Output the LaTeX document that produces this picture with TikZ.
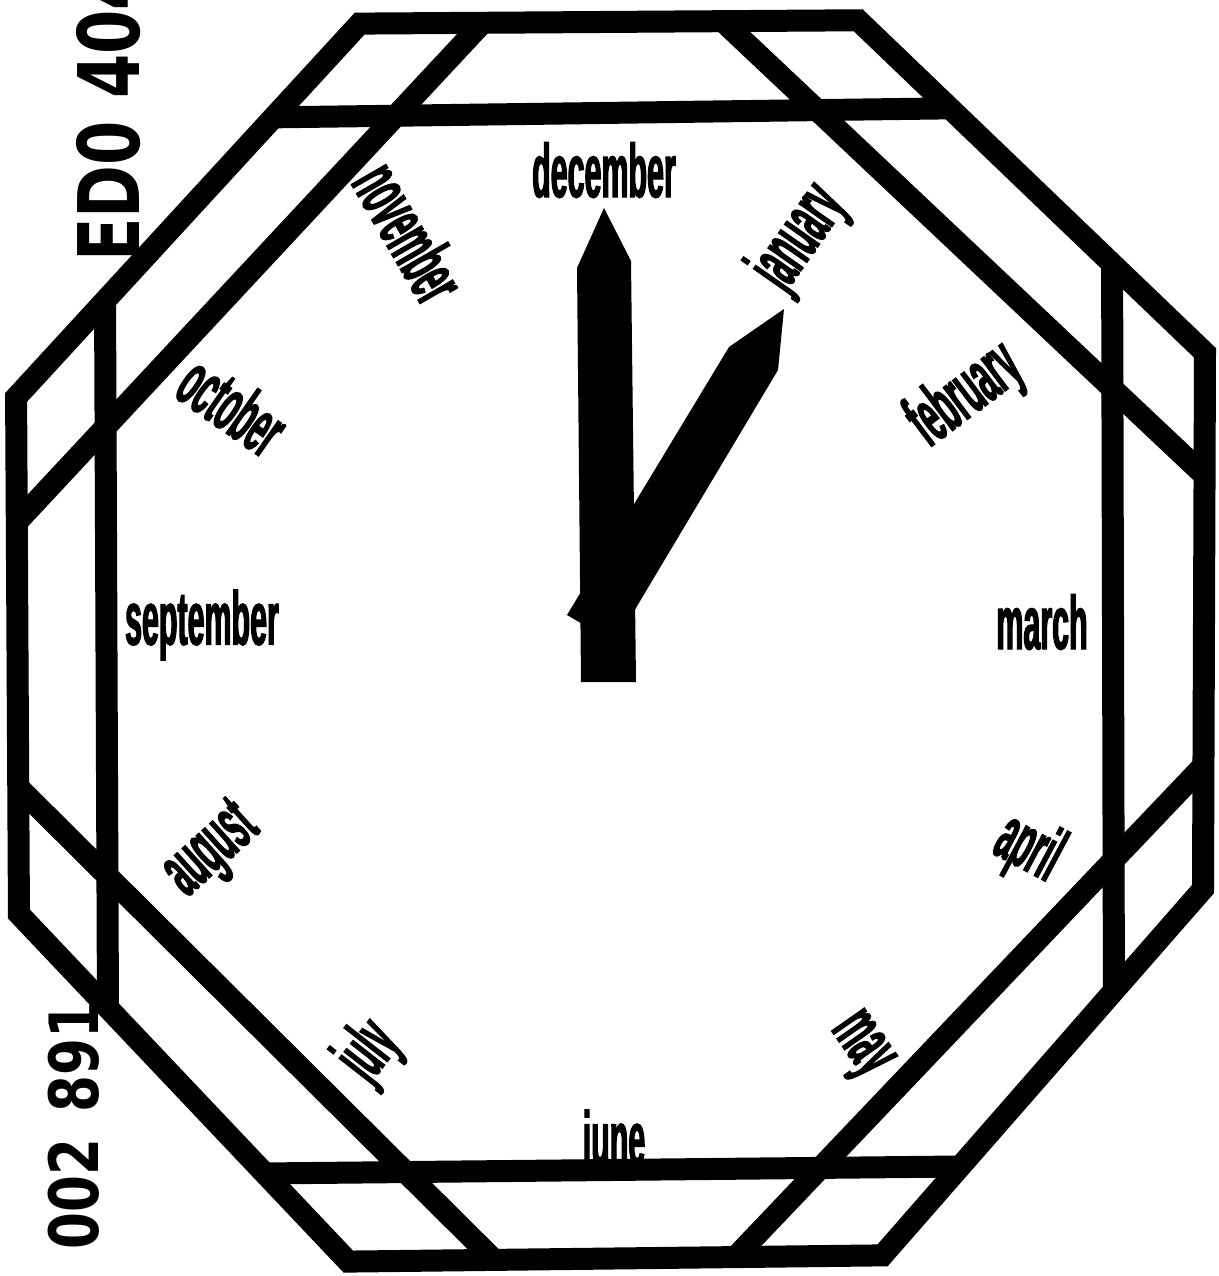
\documentclass[tikz,border=0pt]{standalone}
\usepackage{fontspec}
\newfontfamily\monthfont[FakeStretch=0.40,FakeBold=1.5]{Liberation Sans}
\newfontfamily\stampfont[FakeStretch=0.75]{DejaVu Sans}
\newfontfamily\numfont[FakeStretch=0.78]{DejaVu Sans}
\begin{document}
\begin{tikzpicture}[x=1pt,y=-1pt,
  bar/.style={line width=22pt, line join=miter},
  month/.style={font=\monthfont\bfseries\fontsize{76}{76}\selectfont, inner sep=0pt},
  stamp/.style={font=\stampfont\bfseries\fontsize{85}{85}\selectfont, inner sep=0pt},
  numstamp/.style={font=\numfont\bfseries\fontsize{68}{68}\selectfont, inner sep=0pt},
  hand/.style={fill=black}]
\useasboundingbox (0,0) rectangle (1218,1276);
\fill[white] (0,0) rectangle (1218,1276);
% outer lines of the eight strips
\coordinate (T1) at (300,24);   \coordinate (T2) at (900,20);
\coordinate (UR1) at (860,22);  \coordinate (UR2) at (1204,352);
\coordinate (R1) at (1205,300); \coordinate (R2) at (1203,900);
\coordinate (LR1) at (1204,888); \coordinate (LR2) at (880,1258);
\coordinate (B1) at (300,1262); \coordinate (B2) at (900,1255);
\coordinate (LL1) at (17,912);  \coordinate (LL2) at (345,1258);
\coordinate (L1) at (16,380);   \coordinate (L2) at (19,920);
\coordinate (UL1) at (351,33);  \coordinate (UL2) at (283,107);
% inner lines of the eight strips
\coordinate (t1) at (300,117);  \coordinate (t2) at (900,109);
\coordinate (ur1) at (730,28);  \coordinate (ur2) at (1204,475);
\coordinate (r1) at (1112,270); \coordinate (r2) at (1114,1010);
\coordinate (lr1) at (1204,765); \coordinate (lr2) at (742,1250);
\coordinate (b1) at (300,1173); \coordinate (b2) at (900,1167);
\coordinate (ll1) at (17,786);  \coordinate (ll2) at (484,1250);
\coordinate (l1) at (105,290);  \coordinate (l2) at (108,1010);
\coordinate (ul1) at (473,33);  \coordinate (ul2) at (404,107);
% outer octagon corners
\coordinate (cTL) at (intersection of T1--T2 and UL1--UL2);
\coordinate (cTR) at (intersection of T1--T2 and UR1--UR2);
\coordinate (cRT) at (intersection of R1--R2 and UR1--UR2);
\coordinate (cRB) at (intersection of R1--R2 and LR1--LR2);
\coordinate (cBR) at (intersection of B1--B2 and LR1--LR2);
\coordinate (cBL) at (intersection of B1--B2 and LL1--LL2);
\coordinate (cLB) at (intersection of L1--L2 and LL1--LL2);
\coordinate (cLT) at (intersection of L1--L2 and UL1--UL2);
\draw[bar] (cTL) -- (cTR) -- (cRT) -- (cRB) -- (cBR) -- (cBL) -- (cLB) -- (cLT) -- cycle;
% inner line end points
\coordinate (ta) at (intersection of t1--t2 and UL1--UL2);
\coordinate (tb) at (intersection of t1--t2 and UR1--UR2);
\coordinate (ura) at (intersection of ur1--ur2 and T1--T2);
\coordinate (urb) at (intersection of ur1--ur2 and R1--R2);
\coordinate (ra) at (intersection of r1--r2 and UR1--UR2);
\coordinate (rb) at (intersection of r1--r2 and LR1--LR2);
\coordinate (lra) at (intersection of lr1--lr2 and R1--R2);
\coordinate (lrb) at (intersection of lr1--lr2 and B1--B2);
\coordinate (ba) at (intersection of b1--b2 and LR1--LR2);
\coordinate (bb) at (intersection of b1--b2 and LL1--LL2);
\coordinate (lla) at (intersection of ll1--ll2 and B1--B2);
\coordinate (llb) at (intersection of ll1--ll2 and L1--L2);
\coordinate (la) at (intersection of l1--l2 and LL1--LL2);
\coordinate (lb) at (intersection of l1--l2 and UL1--UL2);
\coordinate (ula) at (intersection of ul1--ul2 and L1--L2);
\coordinate (ulb) at (intersection of ul1--ul2 and T1--T2);
\draw[bar] (ta) -- (tb);
\draw[bar] (ura) -- (urb);
\draw[bar] (ra) -- (rb);
\draw[bar] (lra) -- (lrb);
\draw[bar] (ba) -- (bb);
\draw[bar] (lla) -- (llb);
\draw[bar] (la) -- (lb);
\draw[bar] (ula) -- (ulb);
% hands
\fill[hand] (604,208) -- (631,261) -- (636,682) -- (581,682) -- (577,268) -- cycle;
\fill[hand] (784,309) -- (778,370) -- (615,643) -- (567,615) -- (729,347) -- cycle;
% month labels
\node[month] (dec) at (604,170) {december};
\node[month, rotate=55] (jan) at (800,238) {january};
\node[month, rotate=37] (feb) at (966,396) {february};
\node[month] (mar) at (1042,622) {march};
\node[month, rotate=-28] (apr) at (1028,850) {april};
\node[month, rotate=-55] (may) at (858,1047) {may};
\node[month] (jun) at (614,1145) {june};
\node[month, rotate=52] (jul) at (370,1052) {july};
\node[month, rotate=42] (aug) at (213,852) {august};
\node[month] (sep) at (202,625) {september};
\node[month, rotate=-35] (oct) at (233,405) {october};
\node[month, rotate=-60] (nov) at (410,232) {november};
% stamped numbers
\node[stamp, rotate=90, anchor=west] (ed) at (109,262) {ED0 404};
\node[numstamp, rotate=90, anchor=west] (num) at (74,1250) {002\hspace{8pt} 891};
\end{tikzpicture}
\end{document}
